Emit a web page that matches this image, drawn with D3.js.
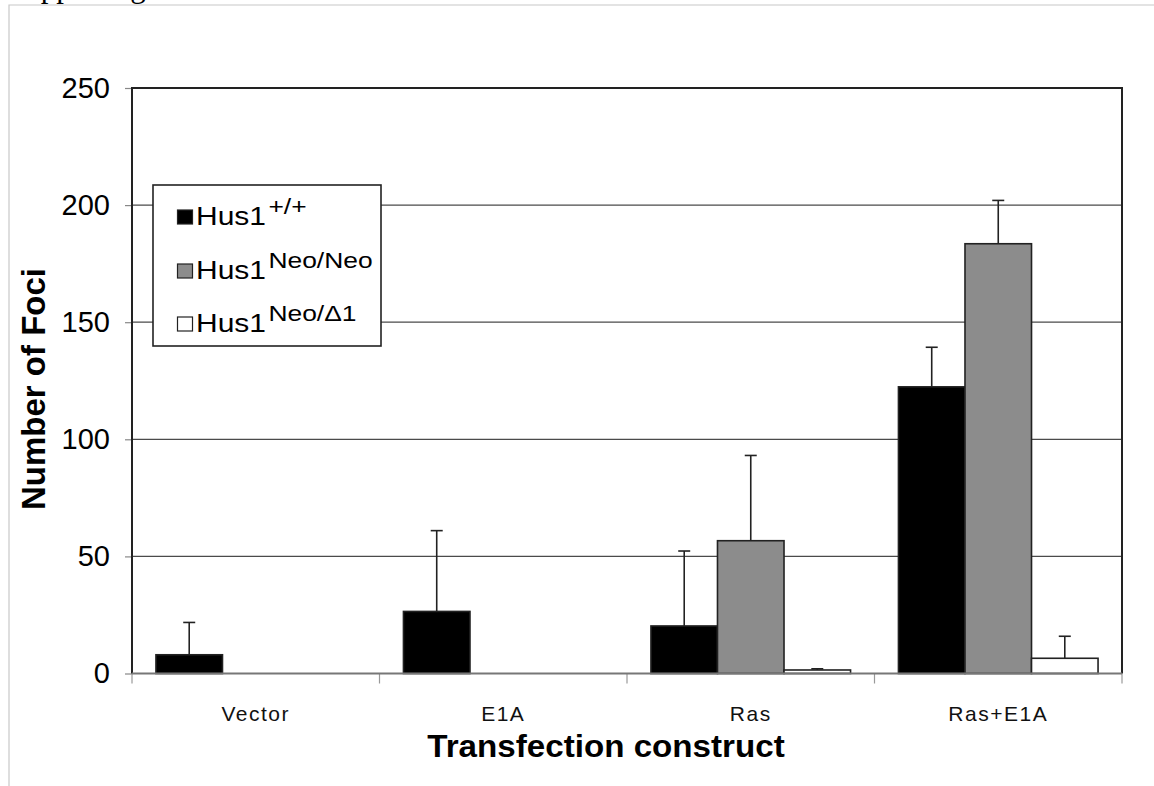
<!DOCTYPE html>
<html>
<head>
<meta charset="utf-8">
<script src="https://cdn.jsdelivr.net/npm/d3@7"></script>
<style>
  html, body { margin: 0; padding: 0; background: #fff; }
  svg { display: block; }
</style>
</head>
<body>
<svg id="chart" width="1154" height="786"></svg>
<script>
// ---- data ----
const categories = ["Vector", "E1A", "Ras", "Ras+E1A"];
const seriesNames = ["+/+", "Neo/Neo", "Neo/\u03941"];
const hus1WT = [8, 26.5, 20.3, 122.4];
const hus1WTErr = [13.8, 34.5, 32, 16.9];
const hus1NeoNeo = [0, 0, 56.7, 183.5];
const hus1NeoNeoErr = [0, 0, 36.4, 18.5];
const hus1NeoDelta = [0, 0, 1.5, 6.5];
const hus1NeoDeltaErr = [0, 0, 0.5, 9.4];
const yTicks = [0, 50, 100, 150, 200, 250];
const seriesColors = ["#000000", "#8c8c8c", "#ffffff"];

const seriesValues = [hus1WT, hus1NeoNeo, hus1NeoDelta];
const seriesErrors = [hus1WTErr, hus1NeoNeoErr, hus1NeoDeltaErr];

const svg = d3.select("#chart");
const font = "'Liberation Sans', Arial, Helvetica, sans-serif";

// outer page frame and heading clipped at the top edge (as in the reference)
svg.append("text").attr("x", 8).attr("y", -3)
  .attr("font-family", "'Liberation Serif', 'Times New Roman', serif")
  .attr("font-size", 31).text("Supporting Information");
svg.append("path").attr("d", "M9,786 V5 H1154")
  .attr("fill", "none").attr("stroke", "#c8c8c8").attr("stroke-width", 1.2);

const plot = { left: 132, right: 1122, top: 88, bottom: 673.5 };

const x0 = d3.scaleBand().domain(categories).range([plot.left, plot.right]).padding(0);
const x1 = d3.scaleBand().domain(d3.range(seriesNames.length))
  .range([0, x0.bandwidth()]).paddingInner(0).paddingOuter(0.36);
const y = d3.scaleLinear().domain([0, 250]).range([plot.bottom, plot.top]);

// gridlines
svg.append("g").selectAll("line").data(yTicks.filter(t => t > 0 && t < 250)).join("line")
  .attr("x1", plot.left).attr("x2", plot.right)
  .attr("y1", d => y(d)).attr("y2", d => y(d))
  .attr("stroke", "#4a4a4a").attr("stroke-width", 1.2);

// y axis
const yAxis = svg.append("g").attr("transform", `translate(${plot.left},0)`)
  .call(d3.axisLeft(y).tickValues(yTicks).tickSize(7).tickPadding(15));
yAxis.select(".domain").remove();
yAxis.selectAll(".tick line").attr("stroke", "#888").attr("stroke-width", 1.2);
yAxis.selectAll(".tick text").attr("font-family", font).attr("font-size", 29).attr("fill", "#000");

// x axis ticks at category boundaries
const bounds = categories.map(c => x0(c)).concat([plot.right]);
svg.append("g").selectAll("line").data(bounds).join("line")
  .attr("x1", d => d).attr("x2", d => d)
  .attr("y1", plot.bottom).attr("y2", plot.bottom + 10)
  .attr("stroke", "#999").attr("stroke-width", 1.2);
svg.append("g").selectAll("text").data(categories).join("text")
  .attr("x", d => x0(d) + x0.bandwidth() / 2).attr("y", 721)
  .attr("text-anchor", "middle").attr("font-family", font).attr("font-size", 21)
  .attr("letter-spacing", 1.5).attr("fill", "#111").text(d => d);

// bars
const barData = [];
seriesValues.forEach((vals, s) => vals.forEach((v, i) => {
  if (v > 0) barData.push({ s, cat: categories[i], v, e: seriesErrors[s][i] });
}));
const bars = svg.append("g");
bars.selectAll("rect").data(barData).join("rect")
  .attr("x", d => x0(d.cat) + x1(d.s)).attr("width", x1.bandwidth())
  .attr("y", d => y(d.v)).attr("height", d => y(0) - y(d.v))
  .attr("fill", d => seriesColors[d.s]).attr("stroke", "#222").attr("stroke-width", 1.6);

// error bars (upper only)
const eb = svg.append("g").attr("stroke", "#222").attr("stroke-width", 1.6);
const ebData = barData.filter(d => d.e > 0);
eb.selectAll("line.v").data(ebData).join("line").attr("class", "v")
  .attr("x1", d => x0(d.cat) + x1(d.s) + x1.bandwidth() / 2)
  .attr("x2", d => x0(d.cat) + x1(d.s) + x1.bandwidth() / 2)
  .attr("y1", d => y(d.v)).attr("y2", d => y(d.v + d.e));
eb.selectAll("line.c").data(ebData).join("line").attr("class", "c")
  .attr("x1", d => x0(d.cat) + x1(d.s) + x1.bandwidth() / 2 - 6)
  .attr("x2", d => x0(d.cat) + x1(d.s) + x1.bandwidth() / 2 + 6)
  .attr("y1", d => y(d.v + d.e)).attr("y2", d => y(d.v + d.e));

// plot frame
svg.append("path")
  .attr("d", `M${plot.left},${plot.bottom} V${plot.top} H${plot.right} V${plot.bottom}`)
  .attr("fill", "none").attr("stroke", "#222").attr("stroke-width", 2);
svg.append("line").attr("x1", plot.left).attr("x2", plot.right)
  .attr("y1", plot.bottom).attr("y2", plot.bottom)
  .attr("stroke", "#777").attr("stroke-width", 2);

// axis titles
svg.append("text").attr("transform", `translate(45,389) rotate(-90)`)
  .attr("text-anchor", "middle").attr("font-family", font).attr("font-weight", "bold")
  .attr("font-size", 33).text("Number of Foci");
svg.append("text").attr("transform", "translate(606,757) scale(1.07,1)")
  .attr("text-anchor", "middle").attr("font-family", font).attr("font-weight", "bold")
  .attr("font-size", 31).text("Transfection construct");

// legend
const lg = svg.append("g");
lg.append("rect").attr("x", 153).attr("y", 185).attr("width", 228).attr("height", 161)
  .attr("fill", "#fff").attr("stroke", "#222").attr("stroke-width", 1.6);
const rowsY = [225, 279, 332];
seriesNames.forEach((name, i) => {
  lg.append("rect").attr("x", 177.5).attr("y", rowsY[i] - 15).attr("width", 15).attr("height", 14)
    .attr("fill", seriesColors[i]).attr("stroke", "#222").attr("stroke-width", 1.2);
  const t = lg.append("text").attr("transform", `translate(196,${rowsY[i]}) scale(1.2,1)`)
    .attr("font-family", font).attr("font-size", 25).attr("fill", "#000");
  t.append("tspan").text("Hus1");
  t.append("tspan").attr("font-size", 22).attr("dy", -11).attr("dx", 2).text(name);
});
</script>
</body>
</html>
